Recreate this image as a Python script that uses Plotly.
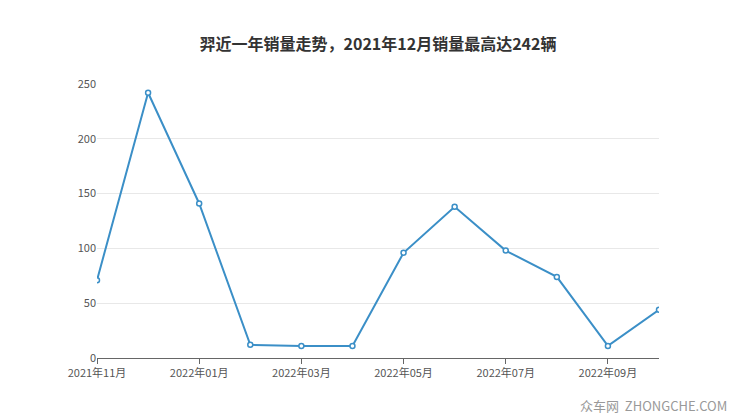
import plotly.graph_objects as go

months = ["2021年11月","2021年12月","2022年01月","2022年02月","2022年03月","2022年04月",
          "2022年05月","2022年06月","2022年07月","2022年08月","2022年09月","2022年10月"]
sales = [71, 242, 141, 12, 11, 11, 96, 138, 98, 74, 11, 44]
tick_labels = months[::2]

fig = go.Figure(go.Scatter(
    x=list(range(len(months))), y=sales, mode="lines+markers",
    line=dict(color="#3b8fc7", width=2),
    marker=dict(size=5, color="white", line=dict(color="#3b8fc7", width=1.5)),
    cliponaxis=True))
fig.update_layout(
    width=740, height=417, plot_bgcolor="white", paper_bgcolor="white",
    margin=dict(l=89, r=89, t=76, b=67, autoexpand=False),
    title=dict(text="<b>羿近一年销量走势，2021年12月销量最高达242辆</b>", x=0.5, xanchor="center",
               y=0.925, font=dict(size=16, color="#333", family="Noto Sans CJK SC")),
    font=dict(family="Noto Sans CJK SC", size=11, color="#555"),
    showlegend=False,
    xaxis=dict(range=[0, 11], tickvals=list(range(0, 12, 2)), ticktext=tick_labels,
               showgrid=False, showline=True, linecolor="#666", ticks="outside",
               ticklen=5, tickcolor="#666", zeroline=False, automargin=False),
    yaxis=dict(range=[0, 250], dtick=50, gridcolor="#e8e8e8", zeroline=False,
               showline=False, ticks="", automargin=False),
    annotations=[dict(text="众车网  ZHONGCHE.COM", xref="paper", yref="paper",
                      x=1.125, y=-0.175, xanchor="right", yanchor="middle", showarrow=False,
                      font=dict(size=13, color="#999"))])
fig.write_html("out.html")
